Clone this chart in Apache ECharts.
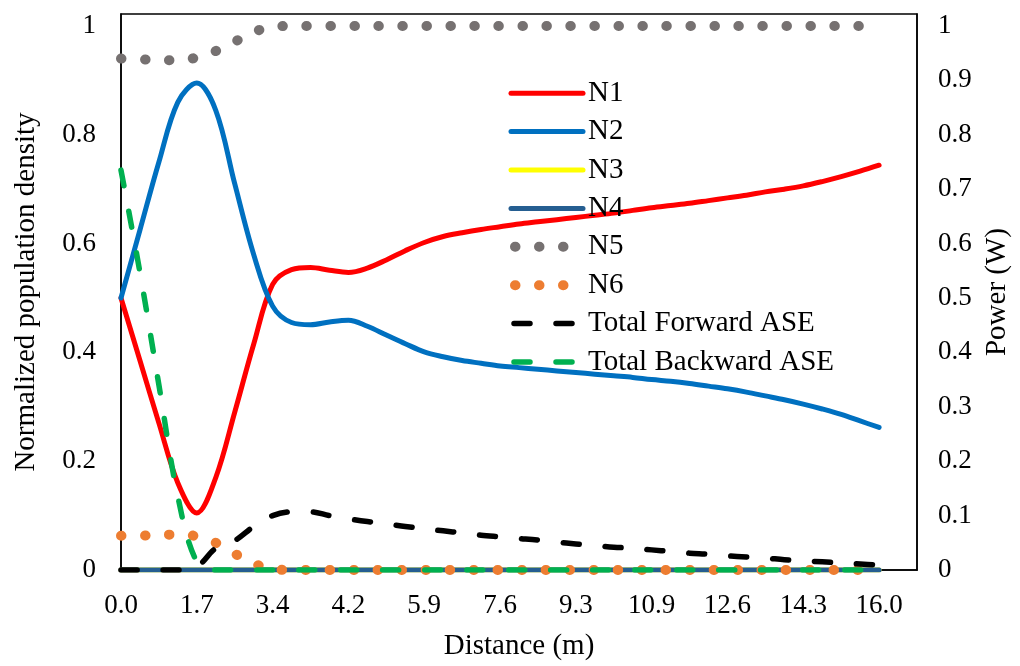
<!DOCTYPE html>
<html>
<head>
<meta charset="utf-8">
<script src="https://cdn.jsdelivr.net/npm/echarts@6/dist/echarts.min.js"></script>
<style>
  html, body { margin: 0; padding: 0; background: #fff; }
  #chart { width: 1020px; height: 666px; }
</style>
</head>
<body>
<div id="chart"></div>
<script>
// Distance labels shown under the axis (one every 4 samples)
const tickLabels = ['0.0', '1.7', '3.4', '4.2', '5.9', '7.6', '9.3', '10.9', '12.6', '14.3', '16.0'];
const SAMPLES_PER_TICK = 4;
const TRAILING_SLOTS = 2;

// Normalized population densities along the fibre
const n1 = [0.50, 0.385, 0.27, 0.16, 0.105, 0.17, 0.29, 0.415, 0.525, 0.552,
            0.556, 0.551, 0.547, 0.555, 0.570, 0.587, 0.602, 0.613, 0.620, 0.626,
            0.631, 0.636, 0.640, 0.644, 0.648, 0.652, 0.656, 0.661, 0.666, 0.670,
            0.674, 0.679, 0.684, 0.689, 0.695, 0.700, 0.706, 0.714, 0.723, 0.733, 0.744];
const n2 = [0.50, 0.625, 0.75, 0.86, 0.895, 0.845, 0.71, 0.58, 0.485, 0.455,
            0.451, 0.456, 0.459, 0.448, 0.432, 0.416, 0.401, 0.392, 0.385, 0.380,
            0.375, 0.372, 0.369, 0.366, 0.363, 0.360, 0.357, 0.354, 0.350, 0.347,
            0.343, 0.338, 0.333, 0.327, 0.320, 0.313, 0.305, 0.296, 0.286, 0.274, 0.262];
const n3 = [0, 0, 0, 0, 0, 0, 0, 0, 0, 0, 0, 0, 0, 0, 0, 0, 0, 0, 0, 0, 0,
            0, 0, 0, 0, 0, 0, 0, 0, 0, 0, 0, 0, 0, 0, 0, 0, 0, 0, 0, 0];
const n4 = [0, 0, 0, 0, 0, 0, 0, 0, 0, 0, 0, 0, 0, 0, 0, 0, 0, 0, 0, 0, 0,
            0, 0, 0, 0, 0, 0, 0, 0, 0, 0, 0, 0, 0, 0, 0, 0, 0, 0, 0, 0];
const n5 = [0.94, 0.939, 0.937, 0.937, 0.942, 0.954, 0.971, 0.989, 0.998, 1.0,
            1.0, 1.0, 1.0, 1.0, 1.0, 1.0, 1.0, 1.0, 1.0, 1.0,
            1.0, 1.0, 1.0, 1.0, 1.0, 1.0, 1.0, 1.0, 1.0, 1.0,
            1.0, 1.0, 1.0, 1.0, 1.0, 1.0, 1.0, 1.0, 1.0, 1.0, 1.0];
const n6 = [0.063, 0.063, 0.065, 0.065, 0.062, 0.05, 0.03, 0.012, 0.002, 0,
            0, 0, 0, 0, 0, 0, 0, 0, 0, 0, 0, 0, 0, 0, 0, 0, 0, 0, 0, 0,
            0, 0, 0, 0, 0, 0, 0, 0, 0, 0, 0];

// ASE power (W)
const forwardASE = [0, 0, 0, 0, 0.006, 0.04, 0.054, 0.08, 0.1, 0.107,
                    0.107, 0.1, 0.094, 0.089, 0.085, 0.08, 0.076, 0.072, 0.068, 0.064,
                    0.061, 0.058, 0.055, 0.051, 0.048, 0.045, 0.042, 0.04, 0.037, 0.034,
                    0.031, 0.029, 0.026, 0.024, 0.022, 0.019, 0.017, 0.015, 0.013, 0.011, 0.009];
const backwardASE = [0.735, 0.547, 0.34, 0.135, 0.015, 0, 0, 0, 0, 0,
                     0, 0, 0, 0, 0, 0, 0, 0, 0, 0, 0, 0, 0, 0, 0, 0, 0, 0, 0, 0,
                     0, 0, 0, 0, 0, 0, 0, 0, 0, 0, 0];

const FONT = 'Liberation Serif';
const TEXT = '#000';
const TICK_SIZE = 27;
const TITLE_SIZE = 29;

// One category slot per sample, plus empty slots to the right of the last one
const slotCount = (tickLabels.length - 1) * SAMPLES_PER_TICK + 1 + TRAILING_SLOTS;
const slots = Array.from({ length: slotCount }, (_, i) => 's' + i);

const oneDecimal = v => {
  const r = Math.round(v * 10) / 10;
  return Math.abs(v - r) < 1e-6 ? String(r) : '';
};

const DOTS = [0.5, 23.5];
const DASHES = [16, 26];
const SOLID_W = 5, DOT_W = 10, DASH_W = 5.5;

function line(name, data, color, opts) {
  opts = opts || {};
  return {
    name: name,
    type: 'line',
    data: data,
    yAxisIndex: opts.yAxisIndex || 0,
    smooth: 0.35,
    symbol: 'none',
    showSymbol: false,
    animation: false,
    lineStyle: {
      color: color,
      width: opts.width || SOLID_W,
      type: opts.type || 'solid',
      cap: 'round',
      join: 'round'
    },
    itemStyle: { color: color }
  };
}

function legendItem(name, kind) {
  const ls = { width: SOLID_W, type: 'solid', cap: 'round' };
  if (kind === 'dots') { ls.width = DOT_W; ls.type = DOTS; ls.dashOffset = -4; }
  if (kind === 'dashes') { ls.width = DASH_W; ls.type = DASHES; ls.dashOffset = -3; }
  return { name: name, lineStyle: ls, itemStyle: { opacity: 0 } };
}

const chart = echarts.init(document.getElementById('chart'), null, { renderer: 'canvas' });
chart.setOption({
  backgroundColor: '#fff',
  animation: false,
  grid: {
    left: 121, right: 103, top: 14, bottom: 96,
    show: true, borderColor: '#000', borderWidth: 1.5, backgroundColor: 'transparent'
  },
  legend: {
    orient: 'vertical',
    left: 506,
    top: 74,
    padding: 0,
    itemWidth: 72,
    itemHeight: 14,
    itemGap: 0,
    itemStyle: { opacity: 0 },
    textStyle: { fontFamily: FONT, fontSize: TITLE_SIZE, color: TEXT, lineHeight: 38.4 },
    data: [
      legendItem('N1'), legendItem('N2'), legendItem('N3'), legendItem('N4'),
      legendItem('N5', 'dots'), legendItem('N6', 'dots'),
      legendItem('Total Forward ASE', 'dashes'), legendItem('Total Backward ASE', 'dashes')
    ]
  },
  xAxis: {
    type: 'category',
    data: slots,
    boundaryGap: false,
    name: 'Distance (m)',
    nameLocation: 'middle',
    nameGap: 62,
    nameTextStyle: { fontFamily: FONT, fontSize: TITLE_SIZE, color: TEXT },
    axisLine: { show: true, lineStyle: { color: '#000', width: 1.5 } },
    axisTick: { show: false },
    axisLabel: {
      interval: SAMPLES_PER_TICK - 1,
      margin: 22,
      fontFamily: FONT, fontSize: TICK_SIZE, color: TEXT,
      formatter: (v, i) => (i % SAMPLES_PER_TICK === 0 && tickLabels[i / SAMPLES_PER_TICK]) || ''
    },
    splitLine: { show: false }
  },
  yAxis: [
    {
      type: 'value',
      min: 0, max: 1.022, interval: 0.2,
      name: 'Normalized population density',
      nameLocation: 'middle',
      nameGap: 80,
      nameTextStyle: { fontFamily: FONT, fontSize: TITLE_SIZE, color: TEXT },
      axisLine: { show: true, lineStyle: { color: '#000', width: 1.5 } },
      axisTick: { show: false },
      splitLine: { show: false },
      axisLabel: { margin: 25, padding: [4, 0, 0, 0], fontFamily: FONT, fontSize: TICK_SIZE, color: TEXT, formatter: oneDecimal }
    },
    {
      type: 'value',
      position: 'right',
      min: 0, max: 1.022, interval: 0.1,
      name: 'Power (W)',
      nameLocation: 'middle',
      nameGap: 66,
      nameTextStyle: { fontFamily: FONT, fontSize: TITLE_SIZE, color: TEXT },
      axisLine: { show: true, lineStyle: { color: '#000', width: 1.5 } },
      axisTick: { show: false },
      splitLine: { show: false },
      axisLabel: { margin: 21, padding: [4, 0, 0, 0], fontFamily: FONT, fontSize: TICK_SIZE, color: TEXT, formatter: oneDecimal }
    }
  ],
  series: [
    line('N1', n1, '#FF0000'),
    line('N2', n2, '#0070C0'),
    line('N3', n3, '#FFFF00'),
    line('N4', n4, '#255E91'),
    line('N5', n5, '#767171', { type: DOTS, width: DOT_W }),
    line('N6', n6, '#ED7D31', { type: DOTS, width: DOT_W }),
    line('Total Forward ASE', forwardASE, '#000000', { type: DASHES, width: DASH_W, yAxisIndex: 1 }),
    line('Total Backward ASE', backwardASE, '#00B050', { type: DASHES, width: DASH_W, yAxisIndex: 1 })
  ]
});
</script>
</body>
</html>
